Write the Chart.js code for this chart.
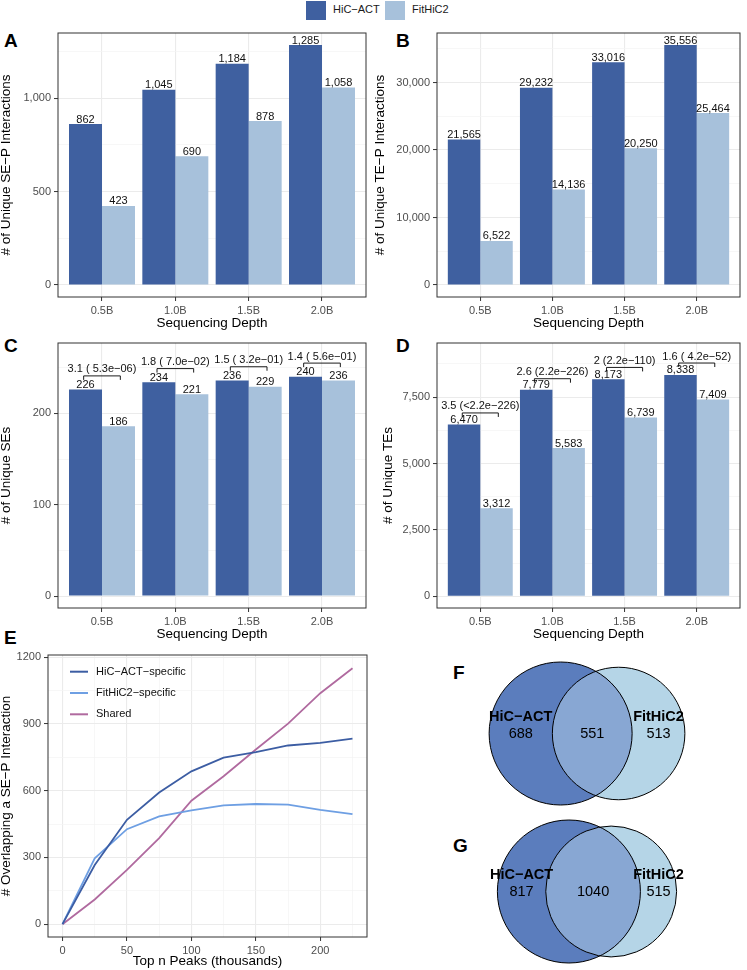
<!DOCTYPE html>
<html>
<head>
<meta charset="utf-8">
<script src="https://cdn.jsdelivr.net/npm/chart.js@4.4.1/dist/chart.umd.min.js"></script>
<style>
  body { margin: 0; width: 747px; height: 970px; position: relative; overflow: hidden; background: #fff;
         font-family: "Liberation Sans", Arial, sans-serif; }
  canvas { position: absolute; }
  .tag { position: absolute; font-weight: bold; font-size: 19px; line-height: 1; }
  .key { position: absolute; top: 1px; width: 20px; height: 19px; }
  .keytxt { position: absolute; top: 4px; font-size: 11px; line-height: 1; color: #1a1a1a; }
</style>
</head>
<body>
<div class="key" style="left:306px;background:#3F60A0"></div>
<div class="keytxt" style="left:333px">HiC−ACT</div>
<div class="key" style="left:385px;background:#A7C1DB"></div>
<div class="keytxt" style="left:412px">FitHiC2</div>

<div class="tag" style="left:4px;top:31px">A</div>
<div class="tag" style="left:396px;top:31px">B</div>
<div class="tag" style="left:4px;top:336px">C</div>
<div class="tag" style="left:396px;top:336px">D</div>
<div class="tag" style="left:4px;top:628px">E</div>
<div class="tag" style="left:453px;top:663px">F</div>
<div class="tag" style="left:453px;top:836px">G</div>

<canvas id="chartA" width="373" height="312" style="left:0;top:22px"></canvas>
<canvas id="chartB" width="374" height="312" style="left:373px;top:22px"></canvas>
<canvas id="chartC" width="373" height="312" style="left:0;top:332px"></canvas>
<canvas id="chartD" width="374" height="312" style="left:373px;top:332px"></canvas>
<canvas id="chartE" width="373" height="325" style="left:0;top:645px"></canvas>
<canvas id="chartF" width="327" height="160" style="left:420px;top:650px"></canvas>
<canvas id="chartG" width="327" height="160" style="left:420px;top:808px"></canvas>

<script>
// ---- data ----
const depths = ['0.5B', '1.0B', '1.5B', '2.0B'];

const sepHicAct = [862, 1045, 1184, 1285];
const sepFithic = [423, 690, 878, 1058];

const tepHicAct = [21565, 29232, 33016, 35556];
const tepFithic = [6522, 14136, 20250, 25464];

const seHicAct = [226, 234, 236, 240];
const seFithic = [186, 221, 229, 236];
const seStats = ['3.1 ( 5.3e−06)', '1.8 ( 7.0e−02)', '1.5 ( 3.2e−01)', '1.4 ( 5.6e−01)'];
const seBracket = [241, 249, 251, 255];

const teHicAct = [6470, 7779, 8173, 8338];
const teFithic = [3312, 5583, 6739, 7409];
const teStats = ['3.5 (<2.2e−226)', '2.6 (2.2e−226)', '2 (2.2e−110)', '1.6 ( 4.2e−52)'];
const teBracket = [6906, 8195, 8620, 8786];

const topPeaks = [0, 25, 50, 75, 100, 125, 150, 175, 200, 225];
const overlapHicAct = [0, 266, 469, 592, 687, 748, 773, 803, 815, 834];
const overlapFithic = [0, 296, 427, 484, 511, 534, 540, 537, 514, 495];
const overlapShared = [0, 111, 244, 387, 555, 665, 785, 901, 1038, 1150];

// venn counts: [HiC-ACT only, shared, FitHiC2 only]
const vennF = [688, 551, 513];
const vennG = [817, 1040, 515];

// ---- styles ----
const FONT = '"Liberation Sans", Arial, sans-serif';
Chart.defaults.font.family = FONT;
const INK = '#333333';
const TICKTXT = '#4D4D4D';
const GRID = '#EBEBEB';
const GRIDMINOR = '#F3F3F3';
const DARK = '#3F60A0';
const LIGHT = '#A7C1DB';

const fmt = v => v.toLocaleString('en-US');
const isMajor = (v, major) => Math.abs(v % major) < 1e-6;
const xy = (xs, ys) => xs.map((x, i) => ({ x: x, y: ys[i] }));

function stepTicks(from, to, step) {
  const out = [];
  for (let v = from; v <= to + 1e-9; v += step) out.push({ value: v });
  return out;
}

function gridFor(major) {
  return {
    offset: false,
    color: c => (c.tick && isMajor(c.tick.value, major)) ? GRID : GRIDMINOR,
    lineWidth: c => (c.tick && isMajor(c.tick.value, major)) ? 1.1 : 0.7,
    tickColor: c => (c.tick && isMajor(c.tick.value, major)) ? INK : 'rgba(0,0,0,0)',
    tickLength: 4,
    tickWidth: 1
  };
}

// panel border like theme_bw
const boxPlugin = {
  id: 'box',
  afterDatasetsDraw(chart) {
    const { ctx, chartArea: a } = chart;
    ctx.save();
    ctx.strokeStyle = INK;
    ctx.lineWidth = 1;
    ctx.strokeRect(a.left, a.top, a.right - a.left, a.bottom - a.top);
    ctx.restore();
  }
};

// numbers over bars and the significance brackets
const barLabels = {
  id: 'barLabels',
  afterDatasetsDraw(chart, args, opts) {
    const { ctx } = chart;
    ctx.save();
    ctx.font = '11px ' + FONT;
    ctx.fillStyle = '#111';
    ctx.textAlign = 'center';
    ctx.textBaseline = 'alphabetic';
    chart.data.datasets.forEach((ds, i) => {
      chart.getDatasetMeta(i).data.forEach((bar, j) => {
        ctx.fillText(fmt(ds.data[j].y), bar.x, bar.y - 1.5);
      });
    });
    if (opts.heights) {
      const xs = chart.scales.x, ys = chart.scales.y;
      ctx.strokeStyle = '#000';
      ctx.lineWidth = 0.9;
      opts.heights.forEach((h, i) => {
        const y = ys.getPixelForValue(h);
        const x1 = xs.getPixelForValue(i + 1 - 0.25);
        const x2 = xs.getPixelForValue(i + 1 + 0.25);
        ctx.beginPath();
        ctx.moveTo(x1, y + 4);
        ctx.lineTo(x1, y);
        ctx.lineTo(x2, y);
        ctx.lineTo(x2, y + 4);
        ctx.stroke();
        ctx.fillText(opts.texts[i], (x1 + x2) / 2, y - 3.5);
      });
    }
    ctx.restore();
  }
};

function barPanel(id, a, b, cfg) {
  new Chart(document.getElementById(id), {
    type: 'bar',
    data: {
      datasets: [
        { label: 'HiC−ACT', data: xy([1, 2, 3, 4], a), backgroundColor: DARK,
          categoryPercentage: 0.9, barPercentage: 1 },
        { label: 'FitHiC2', data: xy([1, 2, 3, 4], b), backgroundColor: LIGHT,
          categoryPercentage: 0.9, barPercentage: 1 }
      ]
    },
    options: {
      responsive: false,
      animation: false,
      layout: { padding: { top: 11, right: 7, left: 0, bottom: 0 } },
      plugins: {
        legend: { display: false },
        tooltip: { enabled: false },
        barLabels: { heights: cfg.brackets, texts: cfg.texts }
      },
      scales: {
        x: {
          type: 'linear', min: 0.4, max: 4.6, offset: false,
          afterBuildTicks: s => { s.ticks = depths.map((d, i) => ({ value: i + 1 })); },
          afterFit: s => { s.height = cfg.xh; },
          ticks: { callback: v => depths[v - 1] || '', color: TICKTXT, font: { size: 11 },
                   padding: 3, autoSkip: false, maxRotation: 0 },
          grid: gridFor(1),
          border: { display: false },
          title: { display: true, text: 'Sequencing Depth', color: '#000',
                   font: { size: 13.5, lineHeight: 1 }, padding: { top: 0, bottom: cfg.xpad } }
        },
        y: {
          min: cfg.min, max: cfg.max,
          afterBuildTicks: s => { s.ticks = stepTicks(0, cfg.max, cfg.step); },
          afterFit: s => { s.width = cfg.yw; },
          ticks: { callback: v => isMajor(v, cfg.major) ? fmt(v) : '', color: TICKTXT,
                   font: { size: 11 }, padding: 3, autoSkip: false },
          grid: gridFor(cfg.major),
          border: { display: false },
          title: { display: true, text: cfg.ytitle, color: '#000',
                   font: { size: 13.5, lineHeight: 1 }, padding: { top: cfg.ypad, bottom: 0 } }
        }
      }
    },
    plugins: [barLabels, boxPlugin]
  });
}

barPanel('chartA', sepHicAct, sepFithic, {
  min: -64.25, max: 1349.25, step: 250, major: 500, yw: 58, xh: 37, xpad: 4, ypad: 0,
  ytitle: '# of Unique SE−P Interactions'
});
barPanel('chartB', tepHicAct, tepFithic, {
  min: -1778, max: 37334, step: 5000, major: 10000, yw: 64, xh: 37, xpad: 4, ypad: 1,
  ytitle: '# of Unique TE−P Interactions'
});
barPanel('chartC', seHicAct, seFithic, {
  min: -13, max: 277, step: 50, major: 100, yw: 58, xh: 36, xpad: 2.75, ypad: 0,
  ytitle: '# of Unique SEs', brackets: seBracket, texts: seStats
});
barPanel('chartD', teHicAct, teFithic, {
  min: -440, max: 9540, step: 1250, major: 2500, yw: 64, xh: 36, xpad: 2.75, ypad: 8.5,
  ytitle: '# of Unique TEs', brackets: teBracket, texts: teStats
});

// ---- panel E ----
const lineLegend = {
  id: 'lineLegend',
  afterDatasetsDraw(chart) {
    const { ctx, chartArea: a } = chart;
    ctx.save();
    ctx.font = '11px ' + FONT;
    ctx.textBaseline = 'middle';
    ctx.fillStyle = '#111';
    chart.data.datasets.forEach((ds, i) => {
      const y = a.top + 16.7 + i * 21.3;
      ctx.strokeStyle = ds.borderColor;
      ctx.lineWidth = 2;
      ctx.beginPath();
      ctx.moveTo(a.left + 22, y);
      ctx.lineTo(a.left + 40, y);
      ctx.stroke();
      ctx.fillText(ds.label, a.left + 48, y);
    });
    ctx.restore();
  }
};

new Chart(document.getElementById('chartE'), {
  type: 'line',
  data: {
    datasets: [
      { label: 'HiC−ACT−specific', data: xy(topPeaks, overlapHicAct), borderColor: '#3C5DA3' },
      { label: 'FitHiC2−specific', data: xy(topPeaks, overlapFithic), borderColor: '#6E9FE3' },
      { label: 'Shared', data: xy(topPeaks, overlapShared), borderColor: '#B06A9F' }
    ].map(d => Object.assign(d, { borderWidth: 1.8, pointRadius: 0, tension: 0, fill: false }))
  },
  options: {
    responsive: false,
    animation: false,
    layout: { padding: { top: 10, right: 6, left: 0, bottom: 0 } },
    plugins: { legend: { display: false }, tooltip: { enabled: false } },
    scales: {
      x: {
        type: 'linear', min: -11.25, max: 236.25, offset: false,
        afterBuildTicks: s => { s.ticks = stepTicks(0, 225, 25); },
        afterFit: s => { s.height = 33; },
        ticks: { callback: v => isMajor(v, 50) ? String(v) : '', color: TICKTXT, font: { size: 11 },
                 padding: 3, autoSkip: false, maxRotation: 0 },
        grid: gridFor(50),
        border: { display: false },
        title: { display: true, text: 'Top n Peaks (thousands)', color: '#000',
                 font: { size: 13.5, lineHeight: 1 }, padding: { top: 0, bottom: 1.5 } }
      },
      y: {
        min: -57.6, max: 1209.6,
        afterBuildTicks: s => { s.ticks = stepTicks(0, 1200, 150); },
        afterFit: s => { s.width = 48; },
        ticks: { callback: v => isMajor(v, 300) ? String(v) : '', color: TICKTXT,
                 font: { size: 11 }, padding: 3, autoSkip: false },
        grid: gridFor(300),
        border: { display: false },
        title: { display: true, text: '# Overlapping a SE−P Interaction', color: '#000',
                 font: { size: 13.5, lineHeight: 1 }, padding: { top: 0, bottom: 0 } }
      }
    }
  },
  plugins: [lineLegend, boxPlugin]
});

// ---- Venn panels F, G ----
const VENN_R = 71.5;
const VENN_CX = 167;
const VENN_CY = 83.5;

function lensArea(d, r1, r2) {
  if (d >= r1 + r2) return 0;
  if (d <= Math.abs(r1 - r2)) return Math.PI * Math.min(r1, r2) ** 2;
  const a1 = Math.acos((d * d + r1 * r1 - r2 * r2) / (2 * d * r1));
  const a2 = Math.acos((d * d + r2 * r2 - r1 * r1) / (2 * d * r2));
  const k = Math.sqrt((-d + r1 + r2) * (d + r1 - r2) * (d - r1 + r2) * (d + r1 + r2));
  return r1 * r1 * a1 + r2 * r2 * a2 - 0.5 * k;
}

const vennPlugin = {
  id: 'venn',
  afterDatasetsDraw(chart, args, opts) {
    const { ctx } = chart;
    const a = chart.getDatasetMeta(0).data[0];
    const b = chart.getDatasetMeta(1).data[0];
    const ra = a.options.radius, rb = b.options.radius;
    ctx.save();
    ctx.beginPath();
    ctx.arc(a.x, a.y, ra, 0, Math.PI * 2);
    ctx.clip();
    ctx.beginPath();
    ctx.arc(b.x, b.y, rb, 0, Math.PI * 2);
    ctx.fillStyle = '#88A7D3';
    ctx.fill();
    ctx.restore();

    ctx.save();
    ctx.strokeStyle = '#000';
    ctx.lineWidth = 1;
    [[a, ra], [b, rb]].forEach(([p, r]) => {
      ctx.beginPath();
      ctx.arc(p.x, p.y, r, 0, Math.PI * 2);
      ctx.stroke();
    });
    const xl = ((a.x - ra) + (b.x - rb)) / 2;
    const xm = ((b.x - rb) + (a.x + ra)) / 2;
    const xr = ((a.x + ra) + (b.x + rb)) / 2;
    ctx.textAlign = 'center';
    ctx.textBaseline = 'middle';
    ctx.fillStyle = '#000';
    ctx.font = 'bold 14.5px ' + FONT;
    ctx.fillText(chart.data.datasets[0].label, xl, a.y - 17);
    ctx.fillText(chart.data.datasets[1].label, xr, a.y - 17);
    ctx.font = '14.5px ' + FONT;
    ctx.fillText(String(opts.counts[0]), xl, a.y);
    ctx.fillText(String(opts.counts[1]), xm, a.y);
    ctx.fillText(String(opts.counts[2]), xr, a.y);
    ctx.restore();
  }
};

function vennPanel(id, counts) {
  const el = document.getElementById(id);
  const nA = counts[0] + counts[1], nB = counts[2] + counts[1];
  const rA = VENN_R, rB = VENN_R * Math.sqrt(nB / nA);
  const target = counts[1] / nA * Math.PI * rA * rA;
  let lo = Math.abs(rA - rB), hi = rA + rB;
  for (let k = 0; k < 60; k++) {
    const mid = (lo + hi) / 2;
    if (lensArea(mid, rA, rB) > target) lo = mid; else hi = mid;
  }
  const d = (lo + hi) / 2;
  const xA = VENN_CX - (d + rB - rA) / 2;
  new Chart(el, {
    type: 'bubble',
    data: {
      datasets: [
        { label: 'HiC−ACT', data: [{ x: xA, y: VENN_CY, r: rA }], backgroundColor: '#5B7DBD', borderWidth: 0, clip: false },
        { label: 'FitHiC2', data: [{ x: xA + d, y: VENN_CY, r: rB }], backgroundColor: '#B5D5E7', borderWidth: 0, clip: false }
      ]
    },
    options: {
      responsive: false,
      animation: false,
      layout: { padding: 0, autoPadding: false },
      plugins: { legend: { display: false }, tooltip: { enabled: false }, venn: { counts: counts } },
      scales: {
        x: { type: 'linear', min: 0, max: el.width, display: false },
        y: { type: 'linear', min: 0, max: el.height, reverse: true, display: false }
      }
    },
    plugins: [vennPlugin]
  });
}

vennPanel('chartF', vennF);
vennPanel('chartG', vennG);
</script>
</body>
</html>
